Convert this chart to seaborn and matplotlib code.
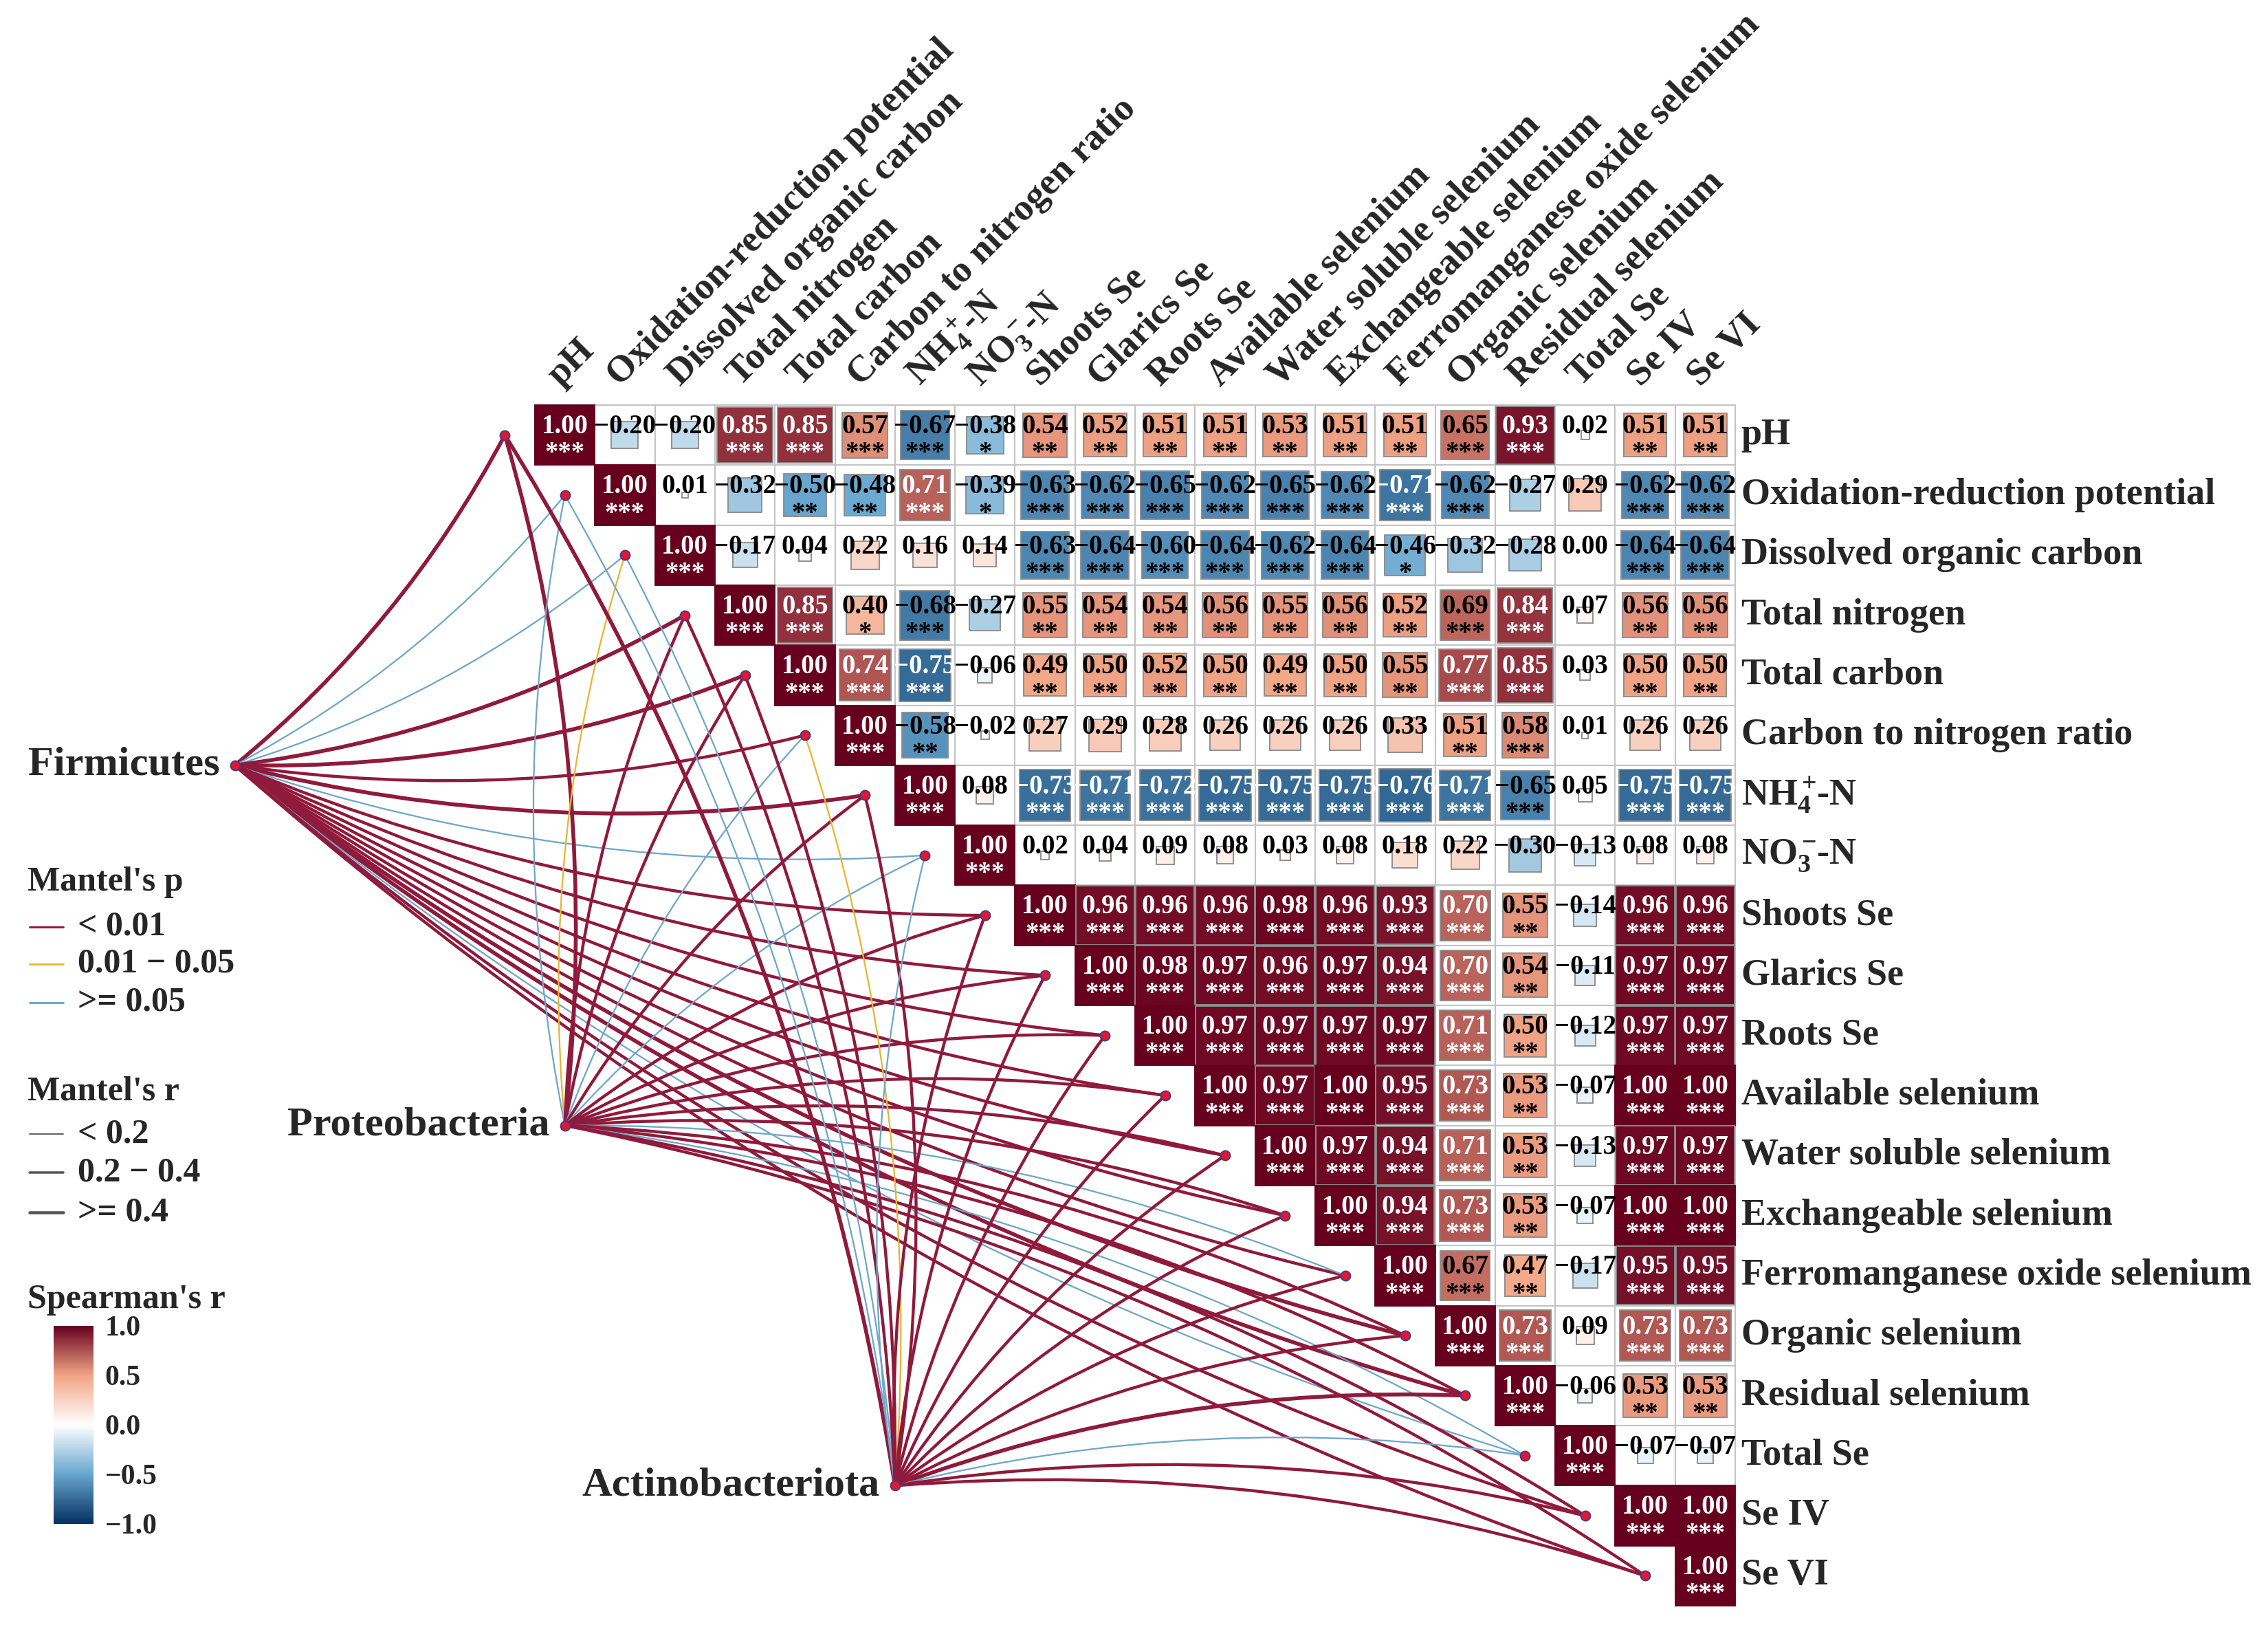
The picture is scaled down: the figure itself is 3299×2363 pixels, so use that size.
import numpy as np
import pandas as pd
import matplotlib
matplotlib.use("Agg")
import matplotlib.pyplot as plt
import seaborn as sns
from matplotlib.patches import Rectangle, FancyArrowPatch
from matplotlib.lines import Line2D
from matplotlib.colors import Normalize, LinearSegmentedColormap
from matplotlib.cm import ScalarMappable

# ---------------- data ----------------
variables = ["pH", "Oxidation-reduction potential", "Dissolved organic carbon", "Total nitrogen",
             "Total carbon", "Carbon to nitrogen ratio", r"NH$_4^+\!$-N", r"NO$_3^-\!$-N", "Shoots Se",
             "Glarics Se", "Roots Se", "Available selenium", "Water soluble selenium",
             "Exchangeable selenium", "Ferromanganese oxide selenium", "Organic selenium",
             "Residual selenium", "Total Se", "Se IV", "Se VI"]

# upper triangle of Spearman's r (row i, columns i..19)
r_rows = [
    [1.00, -0.20, -0.20, 0.85, 0.85, 0.57, -0.67, -0.38, 0.54, 0.52, 0.51, 0.51, 0.53, 0.51, 0.51, 0.65, 0.93, 0.02, 0.51, 0.51],
    [1.00, 0.01, -0.32, -0.50, -0.48, 0.71, -0.39, -0.63, -0.62, -0.65, -0.62, -0.65, -0.62, -0.71, -0.62, -0.27, 0.29, -0.62, -0.62],
    [1.00, -0.17, 0.04, 0.22, 0.16, 0.14, -0.63, -0.64, -0.60, -0.64, -0.62, -0.64, -0.46, -0.32, -0.28, 0.00, -0.64, -0.64],
    [1.00, 0.85, 0.40, -0.68, -0.27, 0.55, 0.54, 0.54, 0.56, 0.55, 0.56, 0.52, 0.69, 0.84, 0.07, 0.56, 0.56],
    [1.00, 0.74, -0.75, -0.06, 0.49, 0.50, 0.52, 0.50, 0.49, 0.50, 0.55, 0.77, 0.85, 0.03, 0.50, 0.50],
    [1.00, -0.58, -0.02, 0.27, 0.29, 0.28, 0.26, 0.26, 0.26, 0.33, 0.51, 0.58, 0.01, 0.26, 0.26],
    [1.00, 0.08, -0.73, -0.71, -0.72, -0.75, -0.75, -0.75, -0.76, -0.71, -0.65, 0.05, -0.75, -0.75],
    [1.00, 0.02, 0.04, 0.09, 0.08, 0.03, 0.08, 0.18, 0.22, -0.30, -0.13, 0.08, 0.08],
    [1.00, 0.96, 0.96, 0.96, 0.98, 0.96, 0.93, 0.70, 0.55, -0.14, 0.96, 0.96],
    [1.00, 0.98, 0.97, 0.96, 0.97, 0.94, 0.70, 0.54, -0.11, 0.97, 0.97],
    [1.00, 0.97, 0.97, 0.97, 0.97, 0.71, 0.50, -0.12, 0.97, 0.97],
    [1.00, 0.97, 1.00, 0.95, 0.73, 0.53, -0.07, 1.00, 1.00],
    [1.00, 0.97, 0.94, 0.71, 0.53, -0.13, 0.97, 0.97],
    [1.00, 0.94, 0.73, 0.53, -0.07, 1.00, 1.00],
    [1.00, 0.67, 0.47, -0.17, 0.95, 0.95],
    [1.00, 0.73, 0.09, 0.73, 0.73],
    [1.00, -0.06, 0.53, 0.53],
    [1.00, -0.07, -0.07],
    [1.00, 1.00],
    [1.00],
]

# number of significance stars for each cell above
star_rows = [
    [3, 0, 0, 3, 3, 3, 3, 1, 2, 2, 2, 2, 2, 2, 2, 3, 3, 0, 2, 2],
    [3, 0, 0, 2, 2, 3, 1, 3, 3, 3, 3, 3, 3, 3, 3, 0, 0, 3, 3],
    [3, 0, 0, 0, 0, 0, 3, 3, 3, 3, 3, 3, 1, 0, 0, 0, 3, 3],
    [3, 3, 1, 3, 0, 2, 2, 2, 2, 2, 2, 2, 3, 3, 0, 2, 2],
    [3, 3, 3, 0, 2, 2, 2, 2, 2, 2, 2, 3, 3, 0, 2, 2],
    [3, 2, 0, 0, 0, 0, 0, 0, 0, 0, 2, 3, 0, 0, 0],
    [3, 0, 3, 3, 3, 3, 3, 3, 3, 3, 3, 0, 3, 3],
    [3, 0, 0, 0, 0, 0, 0, 0, 0, 0, 0, 0, 0],
    [3, 3, 3, 3, 3, 3, 3, 3, 2, 0, 3, 3],
    [3, 3, 3, 3, 3, 3, 3, 2, 0, 3, 3],
    [3, 3, 3, 3, 3, 3, 2, 0, 3, 3],
    [3, 3, 3, 3, 3, 2, 0, 3, 3],
    [3, 3, 3, 3, 2, 0, 3, 3],
    [3, 3, 3, 2, 0, 3, 3],
    [3, 3, 2, 0, 3, 3],
    [3, 3, 0, 3, 3],
    [3, 0, 2, 2],
    [3, 0, 0],
    [3, 3],
    [3],
]

taxa = ["Firmicutes", "Proteobacteria", "Actinobacteriota"]
# Mantel's p class per variable: 0 = < 0.01, 1 = 0.01 - 0.05, 2 = >= 0.05
firmicutes_p = [0, 2, 2, 0, 0, 0, 0, 2, 0, 0, 0, 0, 0, 0, 0, 0, 0, 2, 0, 0]
proteobacteria_p = [0, 2, 1, 0, 0, 2, 0, 2, 0, 0, 0, 0, 0, 0, 2, 0, 0, 2, 0, 0]
actinobacteriota_p = [0, 2, 2, 0, 0, 1, 0, 2, 0, 0, 0, 0, 0, 0, 0, 0, 0, 2, 0, 0]
# Mantel's r class per variable: 0 = < 0.2, 1 = 0.2 - 0.4, 2 = >= 0.4
firmicutes_r = [2, 0, 0, 2, 2, 1, 2, 0, 1, 1, 1, 1, 1, 1, 1, 2, 2, 0, 1, 1]
proteobacteria_r = [2, 0, 0, 1, 1, 0, 1, 0, 1, 1, 1, 1, 1, 1, 0, 1, 1, 0, 1, 1]
actinobacteriota_r = [2, 0, 0, 1, 1, 0, 1, 0, 1, 1, 1, 1, 1, 1, 1, 1, 2, 0, 1, 1]

p_labels = ["< 0.01", "0.01 \u2212 0.05", ">= 0.05"]
r_labels = ["< 0.2", "0.2 \u2212 0.4", ">= 0.4"]

# ---------------- style ----------------
sns.set_theme(style="white")
plt.rcParams["font.family"] = ["Liberation Serif", "DejaVu Serif"]
plt.rcParams["font.weight"] = "bold"
plt.rcParams["mathtext.fontset"] = "custom"
plt.rcParams["mathtext.rm"] = "Liberation Serif:bold"
plt.rcParams["mathtext.it"] = "Liberation Serif:italic:bold"
plt.rcParams["mathtext.bf"] = "Liberation Serif:bold"

P_COLORS = ["#8F1A3B", "#E7B534", "#6FA7CA"]
R_WIDTHS = [0.55, 1.05, 1.35]
DOT_FACE, DOT_EDGE = "#E3172D", "#4A3A8A"

W, H, DPI = 3299, 2363, 300
CELL, X0, Y0 = 87.3, 778, 589          # cell size and matrix origin in pixels

fig = plt.figure(figsize=(W / DPI, H / DPI), dpi=DPI)
fig.patch.set_facecolor("white")
ax = fig.add_axes([0, 0, 1, 1])
ax.set_axis_off()
ax.set_xlim(-X0 / CELL, (W - X0) / CELL)
ax.set_ylim((H - Y0) / CELL, -Y0 / CELL)


def px(x, y):
    return (x - X0) / CELL, (y - Y0) / CELL


n = len(variables)
records = []
for i, (rr, ss) in enumerate(zip(r_rows, star_rows)):
    for k, (r, s) in enumerate(zip(rr, ss)):
        records.append(dict(row=i, col=i + k, r=r, stars=s))
df = pd.DataFrame(records)

cmap = LinearSegmentedColormap.from_list(
    "spear", [(0.0, "#053061"), (0.25, "#67A6CE"), (0.5, "#FFFFFF"),
              (0.75, "#F2A585"), (1.0, "#67001F")])
norm = Normalize(-1, 1)

# background grid cells
for rec in df.itertuples():
    ax.add_patch(Rectangle((rec.col, rec.row), 1, 1, facecolor="white",
                           edgecolor="#c4c4c4", lw=0.5, zorder=1))
# sized squares + text
for rec in df.itertuples():
    side = np.sqrt(abs(rec.r))
    off = (1 - side) / 2
    fc = cmap(norm(rec.r))
    ec = fc if side > 0.995 else "#8c8c8c"
    ax.add_patch(Rectangle((rec.col + off, rec.row + off), side, side, facecolor=fc,
                           edgecolor=ec, lw=0.45, zorder=2))
    tc = "white" if abs(rec.r) >= 0.695 else "black"
    ax.text(rec.col + 0.5, rec.row + 0.47, f"{rec.r:.2f}".replace("-", "\u2212"),
            ha="center", va="baseline", fontsize=9.3, color=tc, fontweight="bold", zorder=6)
    if rec.stars:
        ax.text(rec.col + 0.5, rec.row + 0.92, "*" * rec.stars, ha="center", va="baseline",
                fontsize=9.3, color=tc, fontweight="bold", zorder=6)

# axis labels
for i, lab in enumerate(variables):
    ax.text(20.1, i + 0.5, lab, ha="left", va="center", fontsize=13, fontweight="bold")
    ax.text(i + 0.42, -0.3, lab, ha="left", va="baseline", rotation=45,
            rotation_mode="anchor", fontsize=13, fontweight="bold")

# Mantel links
node_pos = [(-5.0, 6.0), (0.5, 12.0), (6.0, 18.0)]
p_classes = [firmicutes_p, proteobacteria_p, actinobacteriota_p]
r_classes = [firmicutes_r, proteobacteria_r, actinobacteriota_r]
end_x = np.arange(n) - 0.5
end_y = np.arange(n) + 0.5
for (nx, ny), pc, rc in zip(node_pos, p_classes, r_classes):
    for i in range(n):
        sign = 1 if (nx < 0 or end_x[i] < nx) else -1
        patch = FancyArrowPatch((nx, ny), (end_x[i], end_y[i]),
                                connectionstyle=f"arc3,rad={0.1 * sign}", arrowstyle="-",
                                color=P_COLORS[pc[i]], lw=R_WIDTHS[rc[i]],
                                shrinkA=0, shrinkB=0, zorder=3)
        ax.add_patch(patch)

dots = pd.DataFrame({"x": list(end_x) + [p[0] for p in node_pos],
                     "y": list(end_y) + [p[1] for p in node_pos]})
sns.scatterplot(data=dots, x="x", y="y", ax=ax, s=11, color=DOT_FACE,
                edgecolor=DOT_EDGE, linewidth=0.5, zorder=5, legend=False)
ax.set_xlim(-X0 / CELL, (W - X0) / CELL)
ax.set_ylim((H - Y0) / CELL, -Y0 / CELL)
ax.set_axis_off()

for name, (nx, ny) in zip(taxa, node_pos):
    ax.text(nx - 0.25, ny, name, ha="right", va="center", fontsize=14.5, fontweight="bold")

# legends
lx0, lx1, tx = 43, 92, 113
x, y = px(40, 1283)
ax.text(x, y, "Mantel's p", ha="left", va="center", fontsize=12, fontweight="bold")
for k, (yy, lab) in enumerate(zip([1348, 1402, 1458], p_labels)):
    a, b = px(lx0, yy)
    c, _ = px(lx1, yy)
    ax.add_line(Line2D([a, c], [b, b], color=P_COLORS[k], lw=0.7))
    t, _ = px(tx, yy)
    ax.text(t, b, lab, ha="left", va="center", fontsize=12, fontweight="bold")
x, y = px(40, 1587)
ax.text(x, y, "Mantel's r", ha="left", va="center", fontsize=12, fontweight="bold")
for k, (yy, lab) in enumerate(zip([1649, 1705, 1763], r_labels)):
    a, b = px(lx0, yy)
    c, _ = px(lx1, yy)
    ax.add_line(Line2D([a, c], [b, b], color="#555555", lw=R_WIDTHS[k] * 0.8))
    t, _ = px(tx, yy)
    ax.text(t, b, lab, ha="left", va="center", fontsize=12, fontweight="bold")
x, y = px(40, 1890)
ax.text(x, y, "Spearman's r", ha="left", va="center", fontsize=12, fontweight="bold")

cax = fig.add_axes([78 / W, 1 - 2216 / H, 58 / W, 288 / H])
cb = fig.colorbar(ScalarMappable(norm=norm, cmap=cmap), cax=cax)
cb.outline.set_visible(False)
cb.set_ticks([-1.0, -0.5, 0.0, 0.5, 1.0])
cb.set_ticklabels(["\u22121.0", "\u22120.5", "0.0", "0.5", "1.0"])
cax.tick_params(length=0, labelsize=10, pad=4)
for tl in cax.get_yticklabels():
    tl.set_fontweight("bold")

fig.savefig("out.png", dpi=DPI, facecolor="white")
